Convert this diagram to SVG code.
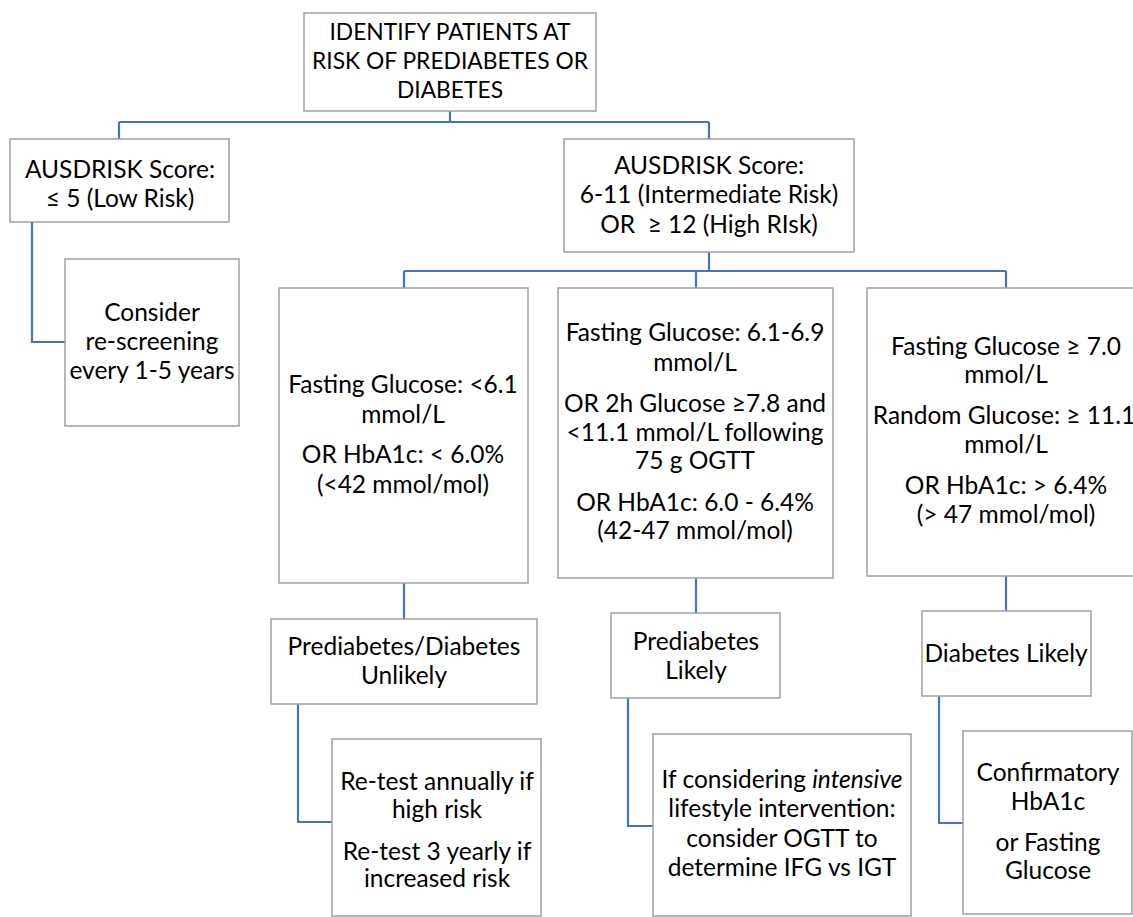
<svg xmlns="http://www.w3.org/2000/svg" width="1133" height="917" viewBox="0 0 1133 917">
<style>
.box{fill:#fff;stroke:#a0a0a0;stroke-width:1.5}
.t{font-family:Lato,"Liberation Sans",sans-serif;font-size:24.5px;fill:#000;text-anchor:middle}
.h{font-size:22.8px}
.c{fill:none;stroke:#4472c4;stroke-width:2.2}
</style>
<rect width="1133" height="917" fill="#fff"/>
<g id="connectors">
<path class="c" d="M450,111V122M119,122H709M119,122V139M709,122V139"/>
<path class="c" d="M32,222V342H65"/>
<path class="c" d="M709,252V271M404,271H1006M404,271V288M696,271V288M1006,271V288"/>
<path class="c" d="M404,583V619M696,578V613M1006,576V611"/>
<path class="c" d="M298,704V822H332"/>
<path class="c" d="M628,698V826H653"/>
<path class="c" d="M939,696V823H963"/>
</g>
<g id="n-identify">
<rect class="box" x="304" y="13" width="292" height="98"/>
<text class="t h" x="450" y="40">IDENTIFY PATIENTS AT</text>
<text class="t h" x="450" y="69">RISK OF PREDIABETES OR</text>
<text class="t h" x="450" y="98">DIABETES</text>
</g>
<g id="n-low">
<rect class="box" x="10" y="139" width="219" height="83"/>
<text class="t" x="120" y="178">AUSDRISK Score:</text>
<text class="t" x="120" y="207">≤ 5 (Low Risk)</text>
</g>
<g id="n-inter">
<rect class="box" x="564" y="139" width="290" height="113"/>
<text class="t" x="709" y="174">AUSDRISK Score:</text>
<text class="t" x="709" y="203">6-11 (Intermediate Risk)</text>
<text class="t" x="709" y="233" xml:space="preserve">OR  ≥ 12 (High RIsk)</text>
</g>
<g id="n-rescreen">
<rect class="box" x="65" y="259" width="174" height="167"/>
<text class="t" x="152" y="321">Consider</text>
<text class="t" x="152" y="350">re-screening</text>
<text class="t" x="152" y="379">every 1-5 years</text>
</g>
<g id="n-normal">
<rect class="box" x="279" y="288" width="249" height="295"/>
<text class="t" x="403" y="393">Fasting Glucose: &lt;6.1</text>
<text class="t" x="403" y="423">mmol/L</text>
<text class="t" x="403" y="463">OR HbA1c: &lt; 6.0%</text>
<text class="t" x="403" y="493">(&lt;42 mmol/mol)</text>
</g>
<g id="n-pre">
<rect class="box" x="558" y="288" width="275" height="290"/>
<text class="t" x="695" y="341">Fasting Glucose: 6.1-6.9</text>
<text class="t" x="695" y="371">mmol/L</text>
<text class="t" x="695" y="412">OR 2h Glucose ≥7.8 and</text>
<text class="t" x="695" y="441">&lt;11.1 mmol/L following</text>
<text class="t" x="695" y="469">75 g OGTT</text>
<text class="t" x="695" y="511">OR HbA1c: 6.0 - 6.4%</text>
<text class="t" x="695" y="539">(42-47 mmol/mol)</text>
</g>
<g id="n-diab">
<rect class="box" x="867" y="288" width="280" height="288"/>
<text class="t" x="1006" y="355">Fasting Glucose ≥ 7.0</text>
<text class="t" x="1006" y="383">mmol/L</text>
<text class="t" x="1004" y="424" font-size="23.5px">Random Glucose: ≥ 11.1</text>
<text class="t" x="1006" y="453">mmol/L</text>
<text class="t" x="1006" y="494">OR HbA1c: &gt; 6.4%</text>
<text class="t" x="1006" y="523">(&gt; 47 mmol/mol)</text>
</g>
<g id="n-unlikely">
<rect class="box" x="271" y="619" width="266" height="85"/>
<text class="t" x="404" y="655">Prediabetes/Diabetes</text>
<text class="t" x="404" y="684">Unlikely</text>
</g>
<g id="n-prelikely">
<rect class="box" x="611" y="613" width="169" height="85"/>
<text class="t" x="696" y="650">Prediabetes</text>
<text class="t" x="696" y="679">Likely</text>
</g>
<g id="n-diablikely">
<rect class="box" x="922" y="611" width="169" height="85"/>
<text class="t" x="1006" y="662">Diabetes Likely</text>
</g>
<g id="n-retest">
<rect class="box" x="332" y="739" width="209" height="177"/>
<text class="t" x="437" y="790">Re-test annually if</text>
<text class="t" x="437" y="818">high risk</text>
<text class="t" x="437" y="860">Re-test 3 yearly if</text>
<text class="t" x="437" y="887">increased risk</text>
</g>
<g id="n-ogtt">
<rect class="box" x="653" y="734" width="258" height="182"/>
<text class="t" x="782" y="788">If considering <tspan font-style="italic">intensive</tspan></text>
<text class="t" x="782" y="817">lifestyle intervention:</text>
<text class="t" x="782" y="847">consider OGTT to</text>
<text class="t" x="782" y="876">determine IFG vs IGT</text>
</g>
<g id="n-confirm">
<rect class="box" x="963" y="731" width="169" height="183"/>
<text class="t" x="1048" y="781">Confirmatory</text>
<text class="t" x="1048" y="810">HbA1c</text>
<text class="t" x="1048" y="851">or Fasting</text>
<text class="t" x="1048" y="879">Glucose</text>
</g>
</svg>
